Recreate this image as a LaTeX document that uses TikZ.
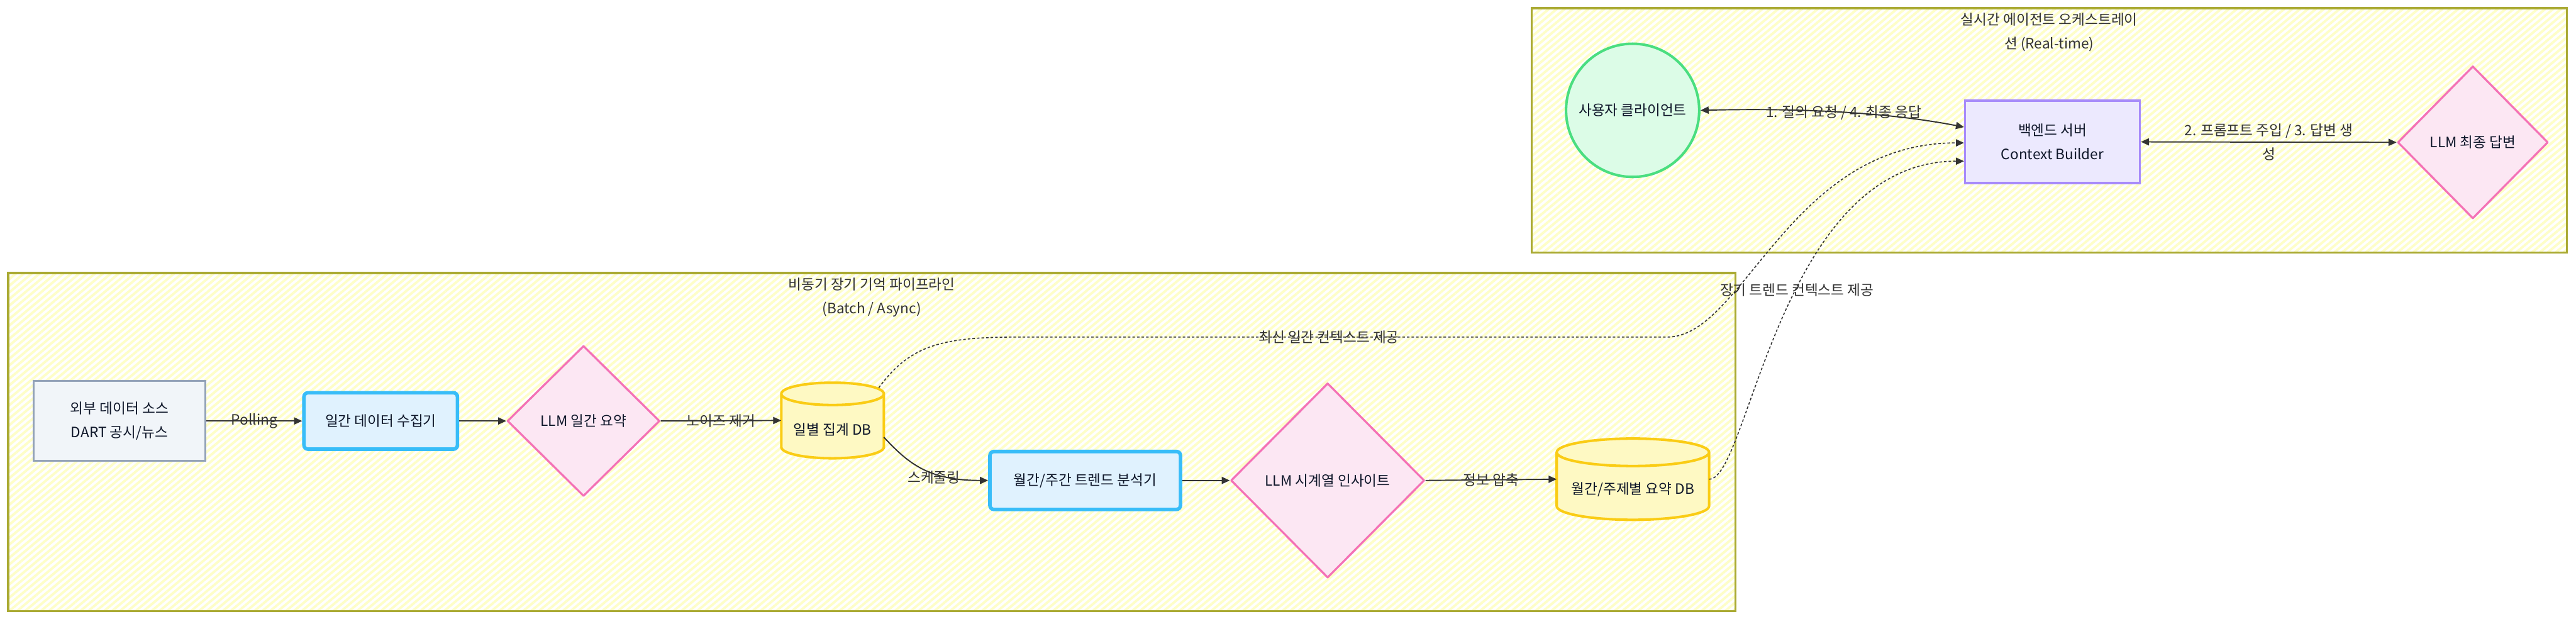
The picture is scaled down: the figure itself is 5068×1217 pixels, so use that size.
\documentclass[tikz,border=0pt]{standalone}
\usepackage{fontspec}
\setmainfont{Noto Sans CJK KR}
\usetikzlibrary{arrows.meta,calc,shapes.geometric,patterns.meta}
\definecolor{cstripe}{HTML}{FEFEC8}
\definecolor{clline}{HTML}{AAAA33}
\definecolor{txt}{HTML}{0F172A}
\definecolor{lbl}{HTML}{333333}
\definecolor{grfill}{HTML}{DCFCE7}
\definecolor{grline}{HTML}{4ADE80}
\definecolor{pufill}{HTML}{ECE9FE}
\definecolor{puline}{HTML}{A78BFA}
\definecolor{pkfill}{HTML}{FCE7F3}
\definecolor{pkline}{HTML}{F472B6}
\definecolor{slfill}{HTML}{F1F5F9}
\definecolor{slline}{HTML}{94A3B8}
\definecolor{blfill}{HTML}{E0F2FE}
\definecolor{blline}{HTML}{38BDF8}
\definecolor{yefill}{HTML}{FEF9C3}
\definecolor{yeline}{HTML}{FACC15}
\newcommand\dfont{\fontsize{14pt}{23.5pt}\selectfont}
\newcommand\dbcyl[3]{%
 \path[fill=yefill, draw=yeline, line width=#3, line join=round]
  let \p1=(#1.north west), \p2=(#1.south east) in
  ({\x1},{\y1-#2}) -- ({\x1},{\y2+#2})
  arc[start angle=180,end angle=360,x radius={(\x2-\x1)/2},y radius=#2]
  -- ({\x2},{\y1-#2})
  arc[start angle=0,end angle=180,x radius={(\x2-\x1)/2},y radius=#2]
  -- cycle
  ({\x1},{\y1-#2}) arc[start angle=180,end angle=360,x radius={(\x2-\x1)/2},y radius=#2];
}
\begin{document}
\begin{tikzpicture}[x=0.5pt,y=-0.5pt,
  base/.style={font=\dfont,text=txt,align=center,inner sep=0pt},
  cluster/.style={draw=clline,preaction={fill=white},pattern={Lines[angle=40,distance=5pt,line width=2.4pt]},pattern color=cstripe,line width=2pt,inner sep=0pt},
  ctitle/.style={font=\dfont,text=lbl,align=center,inner sep=0pt},
  clientnode/.style={base,circle,draw=grline,fill=grfill,line width=2.5pt},
  servernode/.style={base,rectangle,draw=puline,fill=pufill,line width=2pt},
  llmnode/.style={base,diamond,draw=pkline,fill=pkfill,line width=2pt,line join=round},
  srcnode/.style={base,rectangle,draw=slline,fill=slfill,line width=2pt},
  procnode/.style={base,rectangle,rounded corners=4pt,draw=blline,fill=blfill,line width=3.5pt},
  dbnode/.style={base,rectangle},
  conn/.style={draw=lbl,line width=1.2pt,-{Triangle[length=8pt,width=7pt]}},
  bconn/.style={conn,{Triangle[length=8pt,width=7pt]}-{Triangle[length=8pt,width=7pt]}},
  dconn/.style={conn,dash pattern=on 2.5pt off 2pt,line width=1pt},
  elabel/.style={font=\dfont,text=lbl,align=center,inner sep=1pt}
]
\useasboundingbox (0,0) rectangle (5068,1217);
\fill[white] (0,0) rectangle (5068,1217);

% clusters
\node[cluster,minimum width=1018.5pt,minimum height=240.5pt] (rt) at (4031.5,256.5) {};
\node[ctitle] (rtt) at (4031.5,64) {실시간 에이전트 오케스트레이\\션 (Real-time)};
\node[cluster,minimum width=1699pt,minimum height=332.5pt] (bt) at (1715,869.5) {};
\node[ctitle] (btt) at (1715,584.5) {비동기 장기 기억 파이프라인\\(Batch / Async)};

% real-time nodes
\node[clientnode,minimum size=131pt] (cl) at (3212,217) {사용자 클라이언트};
\node[servernode,minimum width=172pt,minimum height=81pt] (be) at (4038,279) {백엔드 서버\\Context Builder};
\node[llmnode,minimum width=148pt,minimum height=150pt] (lf) at (4865,280) {LLM 최종 답변};

% batch nodes
\node[srcnode,minimum width=169pt,minimum height=78.5pt] (ex) at (235,828) {외부 데이터 소스\\DART 공시/뉴스};
\node[procnode,minimum width=151pt,minimum height=55.5pt] (co) at (749,828) {일간 데이터 수집기};
\node[llmnode,minimum width=150pt,minimum height=148pt] (l1) at (1148,828) {LLM 일간 요약};
\node[dbnode,minimum width=100.5pt,minimum height=74pt] (d1) at (1638,827) {};
\dbcyl{d1}{11pt}{2.5pt}
\node[base] (d1t) at ($(d1.center)+(0,18)$) {일별 집계 DB};
\node[procnode,minimum width=187.5pt,minimum height=57pt] (an) at (2135,945) {월간/주간 트렌드 분석기};
\node[llmnode,minimum width=190.5pt,minimum height=191.5pt] (l2) at (2612,945) {LLM 시계열 인사이트};
\node[dbnode,minimum width=149.5pt,minimum height=79.5pt] (d2) at (3212.5,942.5) {};
\dbcyl{d2}{13.5pt}{2.5pt}
\node[base] (d2t) at ($(d2.center)+(0,20)$) {월간/주제별 요약 DB};

% connectors
\draw[bconn] (cl.east) .. controls (3550,212) and (3720,222) .. ($(be.west)+(0,-29)$) node[elabel,pos=0.5]{1. 질의 요청 / 4. 최종 응답};
\draw[bconn] (be.east) -- node[elabel]{2. 프롬프트 주입 / 3. 답변 생\\성} (lf.west);

\draw[conn] (ex.east) -- node[elabel]{Polling} (co.west);
\draw[conn] (co.east) -- (l1.west);
\draw[conn] (l1.east) -- node[elabel]{노이즈 제거} (d1.west);
\draw[conn] ($(d1.east)+(0,33)$) .. controls (1790,915) and (1830,945) .. (an.west) node[elabel,pos=0.6,yshift=-4pt]{스케줄링};
\draw[conn] (an.east) -- (l2.west);
\draw[conn] (l2.east) -- node[elabel]{정보 압축} (d2.west);

\draw[dconn] ($(d1.north east)+(-10,10)$) .. controls (1790,680) and (1850,663) .. (2000,663) -- node[elabel,pos=0.48]{최신 일간 컨텍스트 제공} (3280,663) .. controls (3430,663) and (3520,281) .. ($(be.west)+(0,2)$);
\draw[dconn] (d2.east) .. controls (3440,945) and (3500,317) .. ($(be.west)+(0,38)$) node[elabel,pos=0.565]{장기 트렌드 컨텍스트 제공};
\end{tikzpicture}
\end{document}
